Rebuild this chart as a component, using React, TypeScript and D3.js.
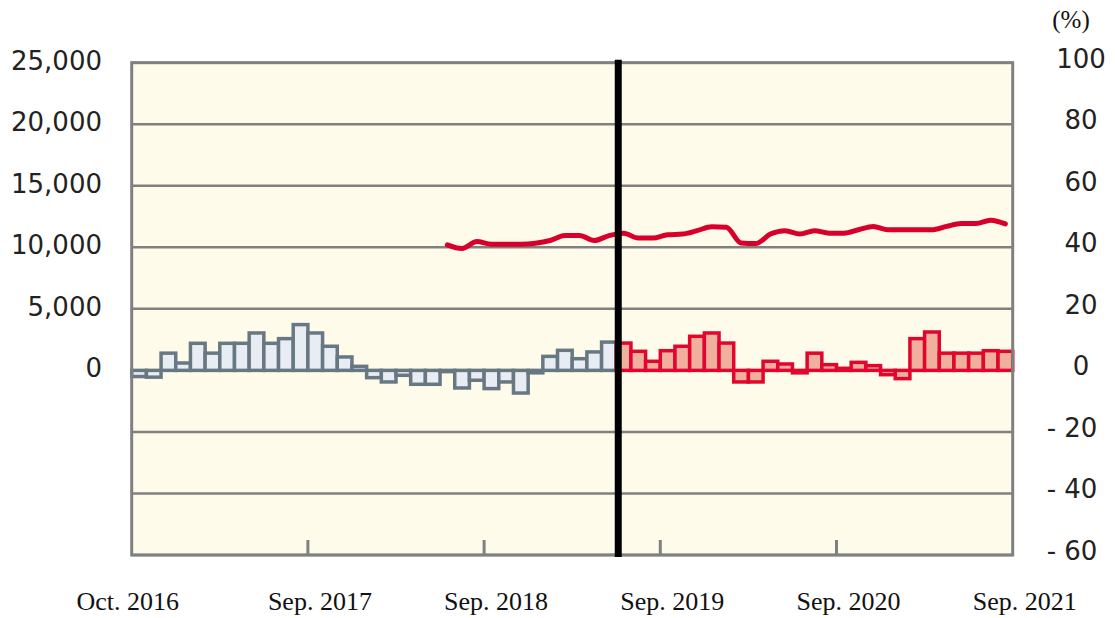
import React from "react";
import * as d3 from "d3";

// Month categories: Oct 2016 – Sep 2021
const monthStarts: Date[] = d3.timeMonths(new Date(2016, 9, 1), new Date(2021, 9, 1));
const monthKeys: string[] = monthStarts.map((d) => d3.timeFormat("%Y-%m")(d));

// Bars (left axis), Oct 2016 – Jun 2019 (grey)
const greyBarValues: number[] = [
  -500, -550, 1400, 600, 2200, 1400, 2200, 2200, 3040, 2200, 2580, 3720,
  3040, 1960, 1090, 330, -590, -940, -400, -1130, -1130, -100, -1430, -800,
  -1480, -940, -1840, -200, 1140, 1630, 950, 1500, 2300,
];
// Bars (left axis), Jul 2019 – Sep 2021 (red)
const redBarValues: number[] = [
  2220, 1550, 740, 1600, 1960, 2770, 3040, 2220, -940, -940, 740, 520,
  -200, 1400, 465, 170, 655, 385, -350, -670, 2580, 3120, 1400, 1400,
  1400, 1600, 1550,
];
// Line (right axis, %), Jul 2018 – Sep 2021
const lineValues: number[] = [
  40.8, 39.6, 41.9, 41.0, 41.0, 41.0, 41.3, 42.2, 43.8, 43.8, 42.2, 43.8,
  44.6, 43.0, 43.0, 44.1, 44.3, 45.4, 46.7, 46.5, 41.4, 41.2, 44.3, 45.4,
  44.3, 45.4, 44.6, 44.6, 45.7, 46.8, 45.7, 45.7, 45.7, 45.7, 46.8, 47.7,
  47.7, 48.8, 47.6,
];
const lineStartKey = "2018-07";

// Axis ticks
const leftTicks: number[] = [0, 5000, 10000, 15000, 20000, 25000];
const rightTicks: number[] = [-60, -40, -20, 0, 20, 40, 60, 80, 100];
const xTickKeys: string[] = ["2017-10", "2018-10", "2019-10", "2020-10"];
const xLabels: { key: string; text: string; edge: "start" | "end" }[] = [
  { key: "2016-10", text: "Oct. 2016", edge: "start" },
  { key: "2017-09", text: "Sep. 2017", edge: "end" },
  { key: "2018-09", text: "Sep. 2018", edge: "end" },
  { key: "2019-09", text: "Sep. 2019", edge: "end" },
  { key: "2020-09", text: "Sep. 2020", edge: "end" },
  { key: "2021-09", text: "Sep. 2021", edge: "end" },
];
const dividerKey = "2019-07";

const W = 1115;
const H = 618;
const L = 131.7;
const R = 1012.7;
const T = 62.7;
const B = 555;

export default function App() {
  const x = d3.scaleBand<string>().domain(monthKeys).range([L, R]).padding(0);
  const yR = d3.scaleLinear().domain([-60, 100]).range([B, T]);
  const yL = d3.scaleLinear().domain([-15000, 25000]).range([B, T]);
  const bw = x.bandwidth();

  const greyBars = greyBarValues.map((v, i) => ({ key: monthKeys[i], v }));
  const redBars = redBarValues.map((v, i) => ({ key: monthKeys[greyBarValues.length + i], v }));
  const lineStart = monthKeys.indexOf(lineStartKey);
  const linePts = lineValues.map((v, i) => ({ key: monthKeys[lineStart + i], v }));

  const line = d3
    .line<{ key: string; v: number }>()
    .x((d) => (x(d.key) as number) + bw / 2)
    .y((d) => yR(d.v))
    .curve(d3.curveMonotoneX);

  const barRect = (d: { key: string; v: number }) => {
    const y0 = yL(0);
    const y1 = yL(d.v);
    return { x: x(d.key) as number, y: Math.min(y0, y1), w: bw, h: Math.abs(y1 - y0) };
  };

  const fmt = d3.format(",");
  const gridColor = "#808080";
  const dividerX = (x(dividerKey) as number) + 2;

  return (
    <svg
      width={W}
      height={H}
      style={{ position: "absolute", left: 0, top: 0, background: "#ffffff" }}
    >
      <rect x={L} y={T} width={R - L} height={B - T} fill="#fffbea" />
      {rightTicks.map((t) => (
        <line key={"g" + t} x1={L} x2={R} y1={yR(t)} y2={yR(t)} stroke={gridColor} strokeWidth={2.5} />
      ))}
      {greyBars.map((d) => {
        const r = barRect(d);
        return (
          <rect key={"gb" + d.key} x={r.x} y={r.y} width={r.w} height={r.h}
            fill="#e8edf3" stroke="#687883" strokeWidth={3.5} />
        );
      })}
      {redBars.map((d) => {
        const r = barRect(d);
        return (
          <rect key={"rb" + d.key} x={r.x} y={r.y} width={r.w} height={r.h}
            fill="#f1b09e" stroke="#e0062e" strokeWidth={3.5} />
        );
      })}
      <rect x={L} y={T} width={R - L} height={B - T} fill="none" stroke={gridColor} strokeWidth={3} />
      {xTickKeys.map((k) => (
        <line key={"t" + k} x1={x(k) as number} x2={x(k) as number} y1={B} y2={B - 15}
          stroke={gridColor} strokeWidth={3} />
      ))}
      <path d={line(linePts) || ""} fill="none" stroke="#d8002a" strokeWidth={5}
        strokeLinejoin="round" strokeLinecap="round" />
      <line x1={dividerX} x2={dividerX} y1={T - 3} y2={B + 2} stroke="#000" strokeWidth={7} />
      {leftTicks.map((t) => (
        <text key={"l" + t} x={102} y={yL(t) + 7} textAnchor="end"
          fontFamily="DejaVu Sans, Verdana, sans-serif" fontSize={26} fill="#222">
          {fmt(t)}
        </text>
      ))}
      {rightTicks.map((t) => (
        <text key={"r" + t} x={t < 0 ? 1072 : 1081} y={yR(t) + 5} textAnchor="middle"
          fontFamily="DejaVu Sans, Verdana, sans-serif" fontSize={26} fill="#222">
          {t < 0 ? "- " + Math.abs(t) : String(t)}
        </text>
      ))}
      <text x={1071} y={28} textAnchor="middle" fontFamily="Liberation Serif, Times New Roman, serif"
        fontSize={25} fill="#111">(%)</text>
      {xLabels.map((lb) => {
        const bx = x(lb.key) as number;
        const cx = lb.edge === "start" ? bx - 4 : bx + bw + 12;
        return (
          <text key={"x" + lb.key} x={cx} y={610} textAnchor="middle"
            fontFamily="Liberation Serif, Times New Roman, serif" fontSize={26} fill="#111">
            {lb.text}
          </text>
        );
      })}
    </svg>
  );
}
